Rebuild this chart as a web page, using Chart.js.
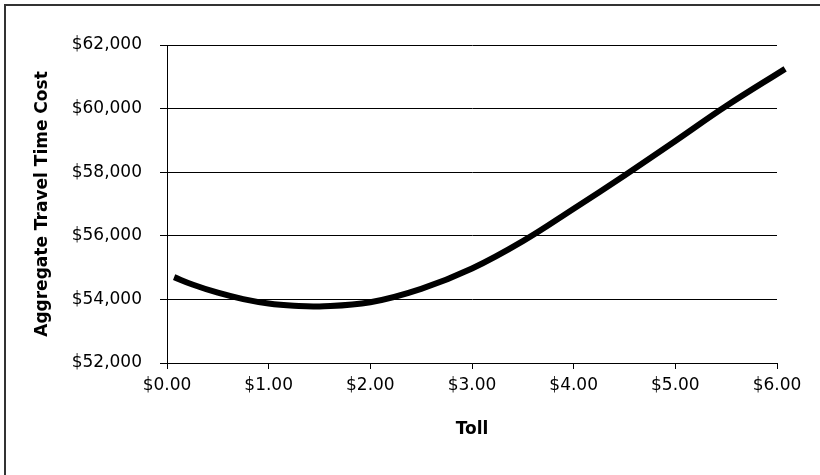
<!DOCTYPE html>
<html>
<head>
<meta charset="utf-8">
<script src="https://cdn.jsdelivr.net/npm/chart.js@4"></script>
<style>
    body { margin: 0; background: #fff; }
    #wrap { position: relative; width: 820px; height: 475px; }
    #frame { position: absolute; left: 4px; top: 4px; right: 0; bottom: 0;
             border-left: 2px solid #333; border-top: 2px solid #333; pointer-events: none; }
</style>
</head>
<body>
<div id="wrap">
    <canvas id="chart" width="820" height="475"></canvas>
    <div id="frame"></div>
</div>
<script>
// values
const tolls = [0.07, 0.25, 0.5, 0.75, 1.0, 1.25, 1.5, 2.0, 2.5, 3.0, 3.5, 4.0, 4.5, 5.0, 5.5, 6.08];
const travelCost = [54700, 54470, 54210, 54010, 53870, 53800, 53780, 53910, 54330, 54970, 55830, 56850, 57900, 58980, 60080, 61250];
const yTicks = [52000, 54000, 56000, 58000, 60000, 62000];
const xTicks = [0, 1, 2, 3, 4, 5, 6];

const font = 'DejaVu Sans, Verdana, sans-serif';
const ctx = document.getElementById('chart').getContext('2d');

const chart = new Chart(ctx, {
    type: 'line',
    data: {
        datasets: [{
            data: tolls.map((t, i) => ({ x: t, y: travelCost[i] })),
            borderColor: '#000',
            borderWidth: 6,
            pointRadius: 0,
            tension: 0.4,
            fill: false,
            clip: false
        }]
    },
    options: {
        responsive: false,
        animation: false,
        layout: { padding: { top: 45, right: 43, left: 0, bottom: 0 } },
        plugins: {
            legend: { display: false },
            tooltip: { enabled: false }
        },
        scales: {
            x: {
                type: 'linear',
                min: 0,
                max: 6,
                afterBuildTicks: s => { s.ticks = xTicks.map(v => ({ value: v })); },
                afterFit: s => { s.height = 112; },
                grid: { drawOnChartArea: false, color: '#000', tickLength: 6 },
                border: { color: '#000', width: 1 },
                ticks: {
                    color: '#000',
                    padding: 6,
                    maxRotation: 0,
                    font: { family: font, size: 17 },
                    callback: v => '$' + Number(v).toFixed(2)
                },
                title: {
                    display: true,
                    text: 'Toll',
                    color: '#000',
                    font: { family: font, size: 17, weight: 'bold' },
                    padding: { top: 0, bottom: 35 }
                }
            },
            y: {
                min: 52000,
                max: 62000,
                afterBuildTicks: s => { s.ticks = yTicks.map(v => ({ value: v })); },
                afterFit: s => { s.width = 167; },
                grid: { color: '#000', tickLength: 7 },
                border: { color: '#000', width: 1 },
                ticks: {
                    color: '#000',
                    padding: 18,
                    font: { family: font, size: 17 },
                    callback: v => '$' + Number(v).toLocaleString('en-US')
                },
                title: {
                    display: true,
                    text: 'Aggregate Travel Time Cost',
                    color: '#000',
                    font: { family: font, size: 17, weight: 'bold' },
                    padding: { top: 32, bottom: 0 }
                }
            }
        }
    }
});
</script>
</body>
</html>
